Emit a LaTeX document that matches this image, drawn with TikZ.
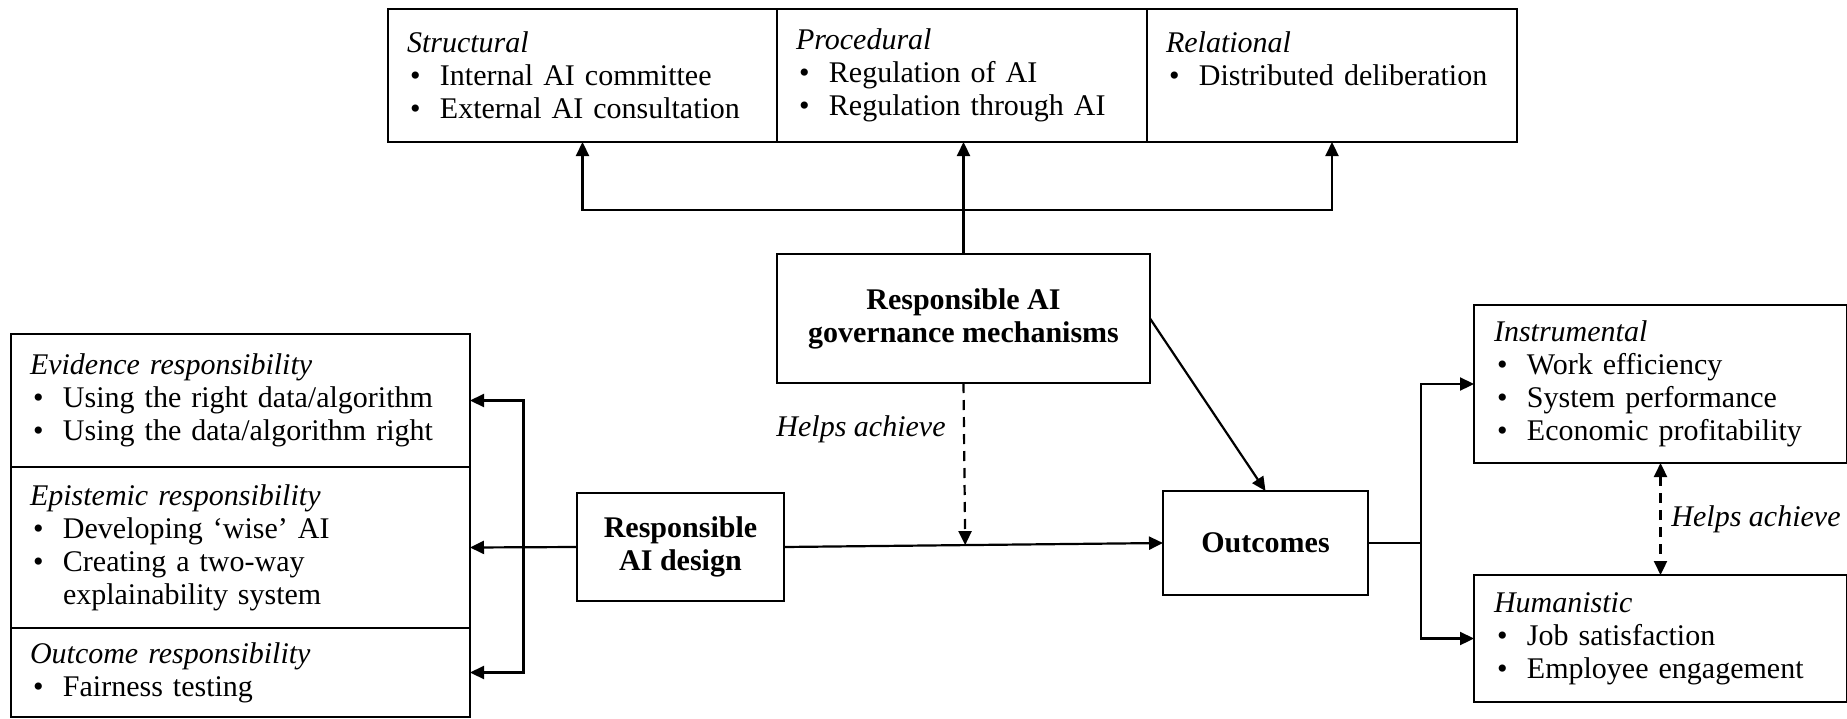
\documentclass[tikz,border=0pt]{standalone}
\usepackage{fontspec}
\setmainfont{Liberation Serif}
\usetikzlibrary{arrows.meta,calc}
\newcommand{\fs}{\fontsize{30}{33}\selectfont}
\newcommand{\bul}{\makebox[33pt][l]{\hspace{3pt}\textbullet}}
\newcommand{\cont}{\hspace*{33pt}}
\begin{document}
\begin{tikzpicture}[x=1pt,y=-1pt,
  every node/.style={font=\fs},
  box/.style={draw, line width=2.3pt, anchor=north west, outer sep=0pt, inner ysep=0pt, inner xsep=19pt, align=left},
  cbox/.style={draw, line width=2.3pt, anchor=north west, outer sep=0pt, inner sep=0pt, align=center, font=\fs\bfseries},
  lbl/.style={font=\fs\itshape, inner sep=0pt},
  arr/.style={line width=2.2pt, -{Triangle[length=14pt,width=13pt]}},
  ln/.style={line width=2.2pt},
  dsh/.style={line width=2.2pt, dash pattern=on 10pt off 7pt},
]
\useasboundingbox (0,0) rectangle (1847,718);

% top boxes
\node[box, minimum height=133pt, text width=351pt] (struct) at (388,9)
  {\textit{Structural}\\ \bul Internal AI committee\\ \bul External AI consultation};
\node[box, minimum height=133pt, text width=332pt] (proc) at (777,9)
  {\textit{Procedural}\\ \bul Regulation of AI\\ \bul Regulation through AI};
\node[box, minimum height=133pt, text width=332pt] (rel) at (1147,9)
  {\textit{Relational}\\ \bul Distributed deliberation\\ \mbox{}};

% governance
\node[cbox, minimum width=373pt, minimum height=129pt] (gov) at (777,254)
  {Responsible AI\\ governance mechanisms};

% design and outcomes
\node[cbox, minimum width=207pt, minimum height=108pt] (design) at (577,493)
  {Responsible\\ AI design};
\node[cbox, minimum width=205pt, minimum height=104pt] (outcomes) at (1163,491)
  {Outcomes};

% left stack
\node[box, minimum height=133pt, text width=421pt] (evid) at (11,334)
  {\textit{Evidence responsibility}\\ \bul Using the right data/algorithm\\ \bul Using the data/algorithm right};
\node[box, minimum height=161pt, text width=421pt] (epis) at (11,467)
  {\textit{Epistemic responsibility}\\ \bul Developing ‘wise’ AI\\ \bul Creating a two-way\\ \cont explainability system};
\node[box, minimum height=89pt, text width=421pt] (outc) at (11,628)
  {\textit{Outcome responsibility}\\ \bul Fairness testing};

% right boxes
\node[box, minimum height=158pt, text width=333pt, inner xsep=20pt] (instr) at (1474,305)
  {\textit{Instrumental}\\ \bul Work efficiency\\ \bul System performance\\ \bul Economic profitability};
\node[box, minimum height=127pt, text width=333pt, inner xsep=20pt] (human) at (1474,575)
  {\textit{Humanistic}\\ \bul Job satisfaction\\ \bul Employee engagement};

% labels
\node[lbl] (ha1) at (861,429) {Helps achieve};
\node[lbl] (ha2) at (1756,519) {Helps achieve};

% top connectors
\coordinate (jt) at (963.5,210);
\draw[arr] (gov.north) -- (gov.north |- proc.south);
\draw[arr] (jt) -| (struct.south);
\draw[arr] (jt) -| (rel.south);

% main flow
\draw[arr] (design.east) -- (outcomes.west);
\draw[arr] (gov.east) -- (outcomes.north);
\draw[dsh, -{Triangle[length=14pt,width=13pt]}] (gov.south) -- ($(design.east)!(gov.south)!(outcomes.west)$);

% left connectors
\coordinate (lj) at ($(design.west)!0.5!(epis.east)$);
\draw[arr] (design.west) -- (epis.east);
\draw[arr] (lj) |- (evid.east);
\draw[arr] (lj) |- (outc.east);

% right connectors
\coordinate (rj) at ($(outcomes.east)!0.5!(instr.west |- outcomes.east)$);
\draw[ln] (outcomes.east) -- (rj);
\draw[arr] (rj) |- (instr.west);
\draw[arr] (rj) |- (human.west);
\draw[dsh, {Triangle[length=14pt,width=13pt]}-{Triangle[length=14pt,width=13pt]}] (instr.south) -- (human.north);
\end{tikzpicture}
\end{document}
